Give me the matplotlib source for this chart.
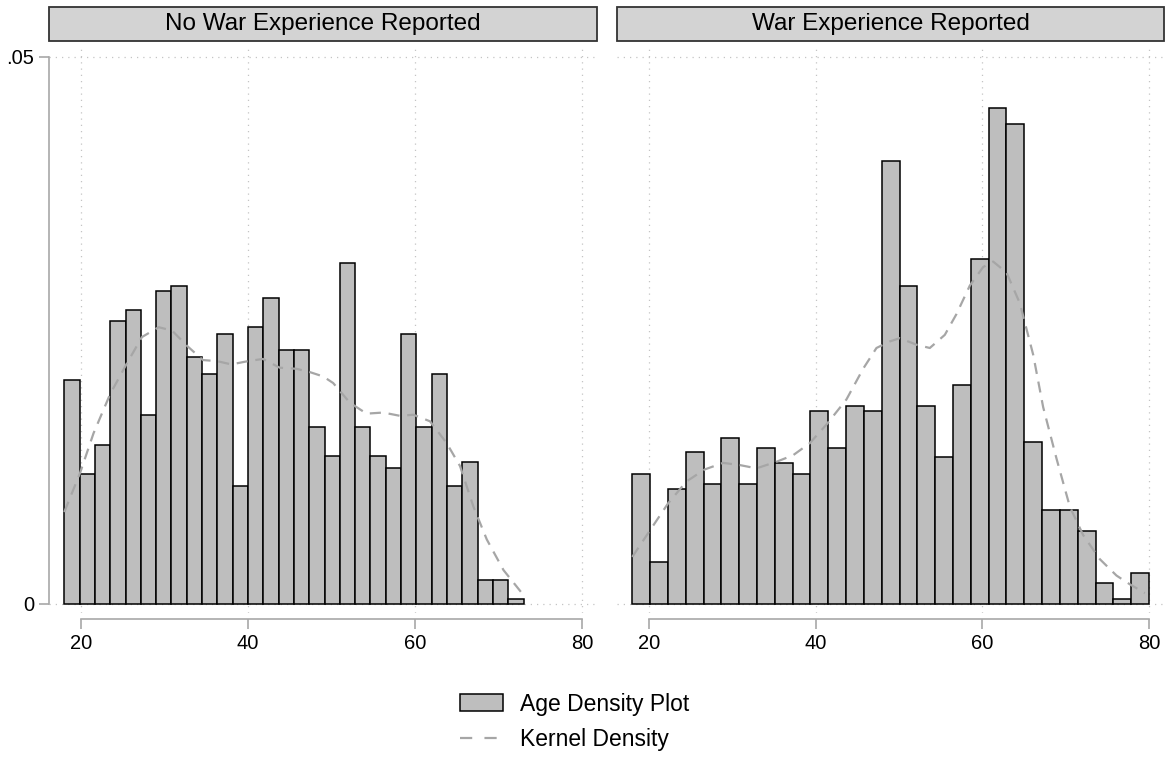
import numpy as np
import matplotlib
matplotlib.use('Agg')
import matplotlib.pyplot as plt
from matplotlib.patches import Rectangle, Patch
from matplotlib.lines import Line2D

plt.rcParams['font.family'] = ['Liberation Sans', 'DejaVu Sans']

# panel titles
panels = ['No War Experience Reported', 'War Experience Reported']

# histogram bins (age range, number of bins) and bar densities
no_war_range = (18, 73)
no_war_bins = 30
no_war_density = [0.0205, 0.0119, 0.0145, 0.0259, 0.0269, 0.0173, 0.0286, 0.0291, 0.0226, 0.0210,
                  0.0247, 0.0108, 0.0253, 0.0280, 0.0232, 0.0232, 0.0162, 0.0135, 0.0312, 0.0162,
                  0.0135, 0.0124, 0.0247, 0.0162, 0.0210, 0.0108, 0.0130, 0.0022, 0.0022, 0.0005]

war_range = (18, 80)
war_bins = 29
war_density = [0.0119, 0.0038, 0.0105, 0.0139, 0.0110, 0.0152, 0.0110, 0.0143, 0.0129, 0.0119,
               0.0176, 0.0143, 0.0181, 0.0176, 0.0405, 0.0291, 0.0181, 0.0134, 0.0200, 0.0315,
               0.0453, 0.0439, 0.0148, 0.0086, 0.0086, 0.0067, 0.0019, 0.0005, 0.0028]

# kernel density curves (age, density)
no_war_kde_age = [18.0, 19.9, 21.5, 23.5, 25.5, 27.3, 29.3, 30.9, 32.7, 34.6, 36.3, 38.0, 40.0,
                  41.8, 43.8, 45.8, 47.4, 49.0, 50.2, 52.2, 54.2, 56.2, 58.2, 59.8, 61.8, 63.8,
                  65.4, 67.0, 68.6, 70.6, 72.8]
no_war_kde = [0.0084, 0.0120, 0.0156, 0.0192, 0.0220, 0.0244, 0.0253, 0.0250, 0.0236, 0.0223,
              0.0222, 0.0219, 0.0222, 0.0224, 0.0216, 0.0215, 0.0212, 0.0208, 0.0202, 0.0184,
              0.0174, 0.0175, 0.0172, 0.0173, 0.0167, 0.0147, 0.0126, 0.0089, 0.0059, 0.0031,
              0.0010]

war_kde_age = [18.0, 20.1, 22.3, 24.5, 26.7, 28.9, 30.9, 32.9, 35.3, 37.3, 39.3, 41.3, 43.7,
               45.7, 47.3, 48.9, 50.1, 52.1, 53.7, 55.5, 56.9, 58.5, 60.1, 61.3, 62.9, 64.5,
               66.1, 67.3, 68.9, 70.5, 72.1, 74.1, 76.1, 77.7, 79.5]
war_kde = [0.0043, 0.0067, 0.0092, 0.0112, 0.0123, 0.0129, 0.0127, 0.0124, 0.0130, 0.0136,
           0.0147, 0.0164, 0.0187, 0.0215, 0.0234, 0.0240, 0.0243, 0.0237, 0.0234, 0.0246,
           0.0265, 0.0291, 0.0308, 0.0313, 0.0303, 0.0275, 0.0228, 0.0180, 0.0133, 0.0089,
           0.0063, 0.0041, 0.0026, 0.0018, 0.0010]

x_ticks = [20, 40, 60, 80]
y_ticks = [0, 0.05]
y_ticklabels = ['0', '.05']

W, H = 1167, 757
fig = plt.figure(figsize=(W / 100, H / 100), dpi=100)

bar_color = '#bebebe'
kde_color = '#a6a6a6'
axis_color = '#a8a8a8'
grid_color = '#c4c4c4'

# pixel boxes: (left, right) of each panel; shared vertical extent
panel_px = [(49, 597), (617, 1164)]
top_px, bot_px = 47, 613

data = [(no_war_range, no_war_bins, no_war_density, no_war_kde_age, no_war_kde),
        (war_range, war_bins, war_density, war_kde_age, war_kde)]

for i, (title, (x0, x1), (rng, nb, dens, kx, ky)) in enumerate(zip(panels, panel_px, data)):
    ax = fig.add_axes([x0 / W, (H - bot_px) / H, (x1 - x0) / W, (bot_px - top_px) / H])
    edges = np.linspace(rng[0], rng[1], nb + 1)
    ax.bar(edges[:-1], dens, width=np.diff(edges), align='edge', color=bar_color,
           edgecolor='black', linewidth=1.1, zorder=2)
    ax.plot(kx, ky, color=kde_color, linewidth=1.6, dashes=(5, 3.5), zorder=3)

    ax.set_xlim(16.17, 81.8)
    ax.set_ylim(-0.000823, 0.050914)
    ax.set_xticks(x_ticks)
    ax.set_xticklabels([str(t) for t in x_ticks])
    ax.set_yticks(y_ticks)
    ax.set_yticklabels(y_ticklabels)
    ax.grid(True, linestyle=(0, (1, 4)), color=grid_color, linewidth=0.9, zorder=0)
    ax.set_axisbelow(True)

    for s in ['top', 'right']:
        ax.spines[s].set_visible(False)
    ax.spines['bottom'].set_position(('outward', 4.3))
    ax.spines['bottom'].set_bounds(20, 80)
    ax.spines['bottom'].set_color(axis_color)
    ax.spines['bottom'].set_linewidth(1.2)
    ax.tick_params(axis='x', length=7.2, width=1.2, color=axis_color, pad=3.5, labelsize=14.5)
    if i == 0:
        ax.spines['left'].set_bounds(0, 0.05)
        ax.spines['left'].set_color(axis_color)
        ax.spines['left'].set_linewidth(1.2)
        ax.tick_params(axis='y', length=7.2, width=1.2, color=axis_color, pad=3.5, labelsize=14.5)
    else:
        ax.spines['left'].set_visible(False)
        ax.tick_params(axis='y', length=0, labelleft=False)

    # panel header strip
    fig.add_artist(Rectangle((x0 / W, (H - 41) / H), (x1 - x0) / W, 34 / H,
                             transform=fig.transFigure, facecolor='#d3d3d3',
                             edgecolor='#333333', linewidth=1.3))
    fig.text((x0 + x1) / 2 / W, (H - 24) / H, title, ha='center', va='center', fontsize=17.5)

handles = [Patch(facecolor=bar_color, edgecolor='black', linewidth=1.1),
           Line2D([], [], color=kde_color, linewidth=1.6, dashes=(5.5, 5.5))]
fig.legend(handles, ['Age Density Plot', 'Kernel Density'], loc='upper left',
           bbox_to_anchor=(439 / W, (H - 672) / H), frameon=False, fontsize=16.5,
           handlelength=1.9, handleheight=0.8, handletextpad=0.75, labelspacing=0.55)

fig.savefig('out.png', dpi=100)
